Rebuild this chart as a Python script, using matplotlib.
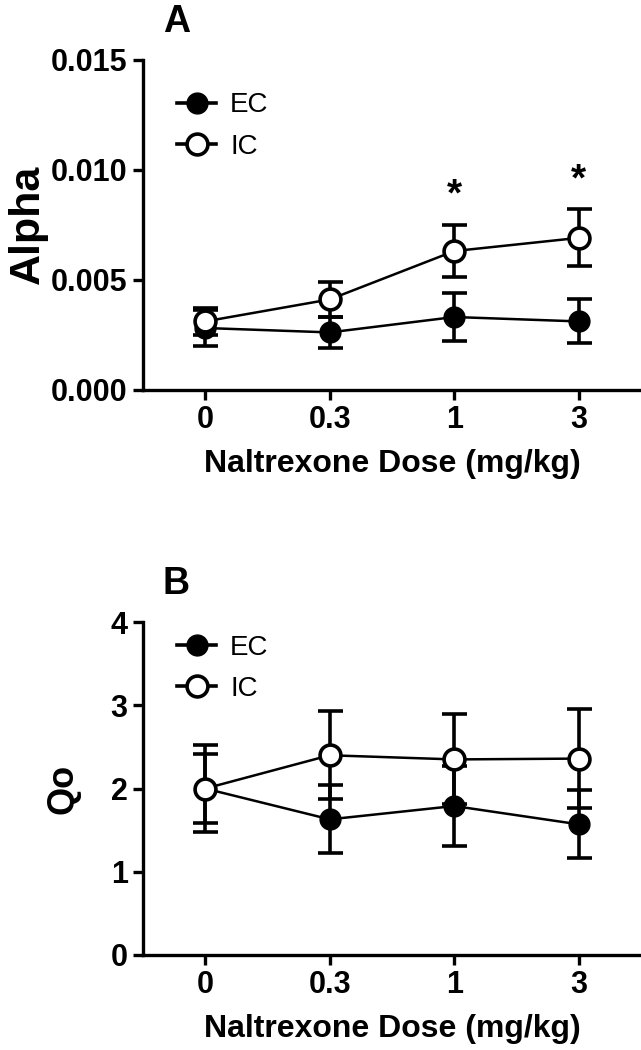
import matplotlib
matplotlib.use("Agg")
import matplotlib.pyplot as plt
from matplotlib.lines import Line2D

plt.rcParams['font.family'] = ['Liberation Sans', 'DejaVu Sans']

doses = ["0", "0.3", "1", "3"]

alpha_ec = [0.0028, 0.0026, 0.0033, 0.0031]
alpha_ec_err = [0.0008, 0.0007, 0.0011, 0.0010]
alpha_ic = [0.0031, 0.0041, 0.0063, 0.0069]
alpha_ic_err = [0.0006, 0.0008, 0.0012, 0.0013]
alpha_sig = [False, False, True, True]

qo_ec = [2.0, 1.63, 1.79, 1.57]
qo_ec_err = [0.42, 0.41, 0.48, 0.41]
qo_ic = [2.0, 2.40, 2.35, 2.36]
qo_ic_err = [0.52, 0.53, 0.54, 0.59]


def panel(ax, ec, ec_err, ic, ic_err, ylim, yticks, yfmt, ylabel, ylsize, ylpad, letter, legy):
    x = list(range(len(doses)))
    ax.errorbar(x, ec, yerr=ec_err, color='black', marker='o', ms=15,
                mfc='black', mec='black', lw=1.8, elinewidth=2.6, capsize=9,
                capthick=2.6, zorder=3)
    ax.errorbar(x, ic, yerr=ic_err, color='black', marker='o', ms=15,
                mfc='white', mec='black', mew=2.6, lw=1.8, elinewidth=2.6,
                capsize=9, capthick=2.6, zorder=4)
    ax.set_xlim(-0.5, 3.5)
    ax.set_ylim(*ylim)
    ax.set_xticks(x)
    ax.set_xticklabels(doses)
    ax.set_yticks(yticks)
    ax.set_yticklabels([yfmt.format(v) for v in yticks])
    for s in ['top', 'right']:
        ax.spines[s].set_visible(False)
    for s in ['left', 'bottom']:
        ax.spines[s].set_linewidth(2.4)
    ax.tick_params(width=2.4, length=7, labelsize=22, pad=4)
    for t in ax.get_xticklabels() + ax.get_yticklabels():
        t.set_fontweight('bold')
    ax.set_xlabel("Naltrexone Dose (mg/kg)", fontsize=23, fontweight='bold', labelpad=10)
    ax.set_ylabel(ylabel, fontsize=ylsize, fontweight='bold', labelpad=ylpad)
    ax.text(0.04, 1.06, letter, transform=ax.transAxes, fontsize=27,
            fontweight='bold', ha='left', va='bottom')
    handles = [
        Line2D([], [], color='black', lw=2.6, marker='o', ms=15, mfc='black', mec='black'),
        Line2D([], [], color='black', lw=2.6, marker='o', ms=15, mfc='white', mec='black', mew=2.6),
    ]
    ax.legend(handles, ['EC', 'IC'], loc='upper left', bbox_to_anchor=(0.03, legy),
              frameon=False, fontsize=20, handlelength=1.4, handletextpad=0.5,
              labelspacing=0.55, borderaxespad=0.3)


fig = plt.figure(figsize=(6.41, 10.5), dpi=100)
ax1 = fig.add_axes([0.223, 0.629, 0.777, 0.314])
ax2 = fig.add_axes([0.223, 0.0905, 0.777, 0.317])

panel(ax1, alpha_ec, alpha_ec_err, alpha_ic, alpha_ic_err, (0, 0.015),
      [0, 0.005, 0.010, 0.015], "{:.3f}", "Alpha", 31, 2, "A", 0.96)
for i, s in enumerate(alpha_sig):
    if s:
        ax1.text(i, alpha_ic[i] + alpha_ic_err[i] + 0.0005, "*", ha='center',
                 va='bottom', fontsize=28, fontweight='bold')

panel(ax2, qo_ec, qo_ec_err, qo_ic, qo_ic_err, (0, 4),
      [0, 1, 2, 3, 4], "{:d}", "Qo", 26, 22, "B", 1.02)

fig.savefig("out.png", dpi=100)
